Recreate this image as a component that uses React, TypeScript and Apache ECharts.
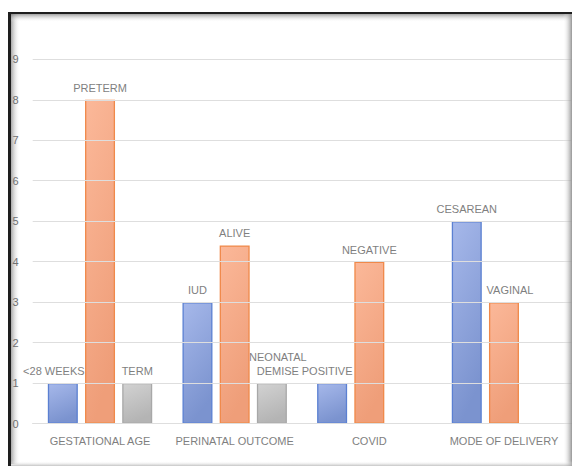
import React, { useEffect, useRef } from "react";
import * as echarts from "echarts";

const categories = ["GESTATIONAL AGE", "PERINATAL OUTCOME", "COVID", "MODE OF DELIVERY"];
const series1Values = [1, 3, 1, 5];
const series1Labels = ["<28 WEEKS", "IUD", "POSITIVE", "CESAREAN"];
const series2Values = [8, 4.4, 4, 3];
const series2Labels = ["PRETERM", "ALIVE", "NEGATIVE", "VAGINAL"];
const series3Values = [1, 1, null, null];
const series3Labels = ["TERM", "NEONATAL\nDEMISE", "", ""];
const yTicks = [0, 1, 2, 3, 4, 5, 6, 7, 8, 9];

// label horizontal nudges (style only)
const labelShift: Record<string, number> = {
  "<28 WEEKS": -9,
  POSITIVE: -5,
  "NEONATAL\nDEMISE": 6,
  VAGINAL: 6,
};

const FONT = "Liberation Sans";
const LABEL_COLOR = "#7f7f7f";

function grad(top: string, bottom: string) {
  return new echarts.graphic.LinearGradient(0, 0, 0.3, 1, [
    { offset: 0, color: top },
    { offset: 1, color: bottom },
  ]);
}

function makeSeries(values: (number | null)[], labels: string[], fillTop: string, fillBottom: string, border: string) {
  return {
    type: "bar",
    barWidth: 30,
    barGap: "24%",
    itemStyle: { color: grad(fillTop, fillBottom), borderColor: border, borderWidth: 1.3 },
    data: values.map((v, i) => ({
      value: v,
      label: {
        show: v !== null,
        position: "top",
        distance: 5,
        offset: [labelShift[labels[i]] || 0, 0],
        formatter: labels[i],
        color: LABEL_COLOR,
        fontFamily: FONT,
        fontSize: 11,
        lineHeight: 14,
      },
    })),
  };
}

export default function App() {
  const ref = useRef<HTMLDivElement>(null);
  useEffect(() => {
    document.body.style.margin = "0";
    const chart = echarts.init(ref.current!, null, { renderer: "svg" });
    chart.setOption({
      animation: false,
      backgroundColor: "#ffffff",
      grid: { left: 32.7, right: 1.7, top: 59.3, bottom: 44.5, containLabel: false },
      xAxis: {
        type: "category",
        data: categories,
        axisLine: { show: true, lineStyle: { color: "#d9d9d9", width: 1 } },
        axisTick: { show: false },
        axisLabel: { interval: 0, color: LABEL_COLOR, fontFamily: FONT, fontSize: 11, margin: 12 },
      },
      yAxis: {
        type: "value",
        z: 5,
        min: yTicks[0],
        max: yTicks[yTicks.length - 1],
        interval: 1,
        axisLine: { show: false },
        axisTick: { show: false },
        splitLine: { lineStyle: { color: "#dedede", width: 1 } },
        axisLabel: { color: "#707070", fontFamily: FONT, fontSize: 11, margin: 14 },
      },
      series: [
        makeSeries(series1Values, series1Labels, "#a6b8ea", "#7b93cf", "#5b80d2"),
        makeSeries(series2Values, series2Labels, "#fbb899", "#ef9e79", "#f0894a"),
        makeSeries(series3Values, series3Labels, "#d2d2d2", "#b4b4b4", "#a8a8a8"),
      ],
      graphic: [
        {
          type: "rect",
          z: -1,
          silent: true,
          shape: { x: 11, y: 14, width: 9, height: 450 },
          style: {
            fill: new echarts.graphic.LinearGradient(0, 0, 1, 0, [
              { offset: 0, color: "rgba(110,110,110,0.6)" },
              { offset: 1, color: "rgba(255,255,255,0)" },
            ]),
          },
        },
        {
          type: "rect",
          z: -1,
          silent: true,
          shape: { x: 11, y: 14, width: 560, height: 8 },
          style: {
            fill: new echarts.graphic.LinearGradient(0, 0, 0, 1, [
              { offset: 0, color: "rgba(110,110,110,0.65)" },
              { offset: 1, color: "rgba(255,255,255,0)" },
            ]),
          },
        },
        {
          type: "rect",
          z: 100,
          silent: true,
          shape: { x: 563, y: 14, width: 9, height: 452 },
          style: {
            fill: new echarts.graphic.LinearGradient(0, 0, 1, 0, [
              { offset: 0, color: "rgba(255,255,255,0)" },
              { offset: 1, color: "rgba(130,130,130,0.85)" },
            ]),
          },
        },
        {
          type: "rect",
          z: 100,
          silent: true,
          shape: { x: 11, y: 461, width: 561, height: 5 },
          style: {
            fill: new echarts.graphic.LinearGradient(0, 0, 0, 1, [
              { offset: 0, color: "rgba(255,255,255,0)" },
              { offset: 1, color: "rgba(170,170,170,0.7)" },
            ]),
          },
        },
        {
          type: "rect",
          z: 101,
          silent: true,
          shape: { x: 8, y: 12, width: 3, height: 454 },
          style: { fill: "#1e1e1e" },
        },
        {
          type: "rect",
          z: 101,
          silent: true,
          shape: { x: 8, y: 12, width: 564, height: 2 },
          style: { fill: "#1e1e1e" },
        },
      ],
    });
    return () => chart.dispose();
  }, []);
  return <div ref={ref} style={{ width: 573, height: 468 }} />;
}
